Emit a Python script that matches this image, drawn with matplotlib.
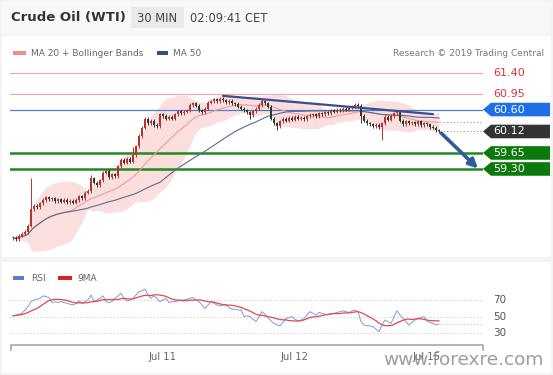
import numpy as np
import pandas as pd
import matplotlib
matplotlib.use('Agg')
import matplotlib.pyplot as plt
from matplotlib.patches import Rectangle, Polygon
from matplotlib.lines import Line2D
import matplotlib.transforms as mtransforms

# ---------------- data ----------------
closes = [
    57.80, 57.76, 57.84, 57.88, 57.92, 58.06,
    58.42, 58.50, 58.46, 58.55,
    58.62, 58.68, 58.64,
    58.66, 58.60, 58.64, 58.58, 58.62, 58.57, 58.60, 58.56, 58.62,
    58.70, 58.66, 58.78, 58.82,
    59.10, 59.00, 58.94,
    59.05, 59.22, 59.26,
    59.12, 59.18, 59.14,
    59.36,
    59.50, 59.44, 59.52, 59.46,
    59.60, 59.80, 60.02,
    60.20, 60.40,
    60.30, 60.36, 60.26, 60.24,
    60.50,
    60.46, 60.40, 60.44, 60.40,
    60.50, 60.56, 60.52, 60.55, 60.58,
    60.70, 60.74, 60.68,
    60.58, 60.54, 60.62,
    60.75, 60.78,
    60.82, 60.78, 60.84, 60.80, 60.76, 60.79, 60.74,
    60.72, 60.66, 60.62, 60.58,
    60.54, 60.48, 60.56,
    60.62, 60.70, 60.78, 60.74, 60.66,
    60.40, 60.30, 60.24,
    60.34, 60.40, 60.36,
    60.42, 60.38, 60.44, 60.40, 60.42, 60.39, 60.45,
    60.48, 60.50, 60.46, 60.52, 60.50, 60.54, 60.52,
    60.58, 60.55, 60.60, 60.58, 60.62, 60.60,
    60.64, 60.66, 60.70, 60.68,
    60.46, 60.36,
    60.30, 60.28, 60.24, 60.26, 60.22,
    60.30,
    60.44, 60.38, 60.46, 60.52,
    60.56,
    60.36, 60.28, 60.34,
    60.30, 60.32, 60.28, 60.34, 60.26, 60.30, 60.28,
    60.22, 60.20, 60.15, 60.12,
]
first_open = 57.78
high_spikes = {6: 59.10, 26: 59.16, 40: 59.78, 83: 60.83}
low_spikes = {79: 60.40, 88: 60.15, 116: 60.30, 123: 59.93}

rsi = [51, 52, 53, 54, 58, 62, 68, 70, 71, 72,
       75, 74, 73, 67, 68, 67, 68, 67, 66, 65,
       64, 66, 69, 66, 68, 70, 76, 68, 70, 72,
       75, 68, 67, 68, 72, 75, 78, 72, 69, 70,
       72, 76, 80, 81, 83, 76, 72, 75, 72, 68,
       70, 72, 67, 68, 68, 69, 70, 70, 71, 72,
       73, 70, 68, 64, 60, 64, 68, 66, 64, 63,
       64, 64, 61, 59, 59, 58, 58, 50, 51, 50,
       47, 44, 50, 56, 53, 49, 45, 42, 40, 39,
       43, 48, 49, 50, 47, 45, 46, 48, 52, 56,
       54, 52, 55, 54, 53, 52, 53, 54, 55, 56,
       57, 56, 55, 57, 58, 56, 44, 40, 39, 39,
       38, 35, 32, 40, 46, 44, 42, 50, 57, 52,
       48, 44, 40, 43, 46, 48, 49, 50, 45, 43,
       42, 40, 41]

levels_red = [61.40, 60.95]
level_blue = 60.60
level_last = 60.12
levels_green = [59.65, 59.30]
rsi_levels = [70, 50, 30]
date_labels = ["Jul 11", "Jul 12", "Jul 15"]
date_pos = [50, 94, 138]
trend_x = [70, 140]
trend_y = [60.90, 60.50]
forecast_x = [142.8, 155.0]
forecast_y = [60.08, 59.31]

assert len(closes) == len(rsi)

# ---------------- figure ----------------
W, H = 553, 375
fig = plt.figure(figsize=(W / 100, H / 100), dpi=100, facecolor='#f3f3f3')


def fx(x):
    return x / W


def fy(y):
    return 1 - y / H


def prect(x0, y0, x1, y1, color, z=-10):
    fig.add_artist(Rectangle((fx(x0), fy(y1)), fx(x1) - fx(x0), fy(y0) - fy(y1),
                             transform=fig.transFigure, facecolor=color,
                             edgecolor='none', zorder=z))


# panels
prect(2, 1, 551, 34, '#f8f8f8')
prect(2, 36, 551, 257, 'white')
prect(2, 262, 551, 373, 'white')

# header
fig.text(fx(11), fy(18), "Crude Oil (WTI)", fontsize=9.5, fontweight='bold',
         color='#333333', va='center', ha='left')
prect(131, 7, 184, 28, '#e9e9e9', z=-5)
fig.text(fx(157.5), fy(18), "30 MIN", fontsize=8.3, color='#444444',
         va='center', ha='center')
fig.text(fx(190), fy(18), "02:09:41 CET", fontsize=8.3, color='#444444',
         va='center', ha='left')

# legend main
prect(13, 51.5, 26, 55, '#f28b8b', z=5)
fig.text(fx(31), fy(53.5), "MA 20 + Bollinger Bands", fontsize=6.5,
         color='#666666', va='center', ha='left')
prect(157, 51.5, 168, 55, '#2f4f8f', z=5)
fig.text(fx(173), fy(53.5), "MA 50", fontsize=6.5, color='#666666',
         va='center', ha='left')
fig.text(fx(544), fy(53.5), "Research \u00a9 2019 Trading Central", fontsize=6.5,
         color='#777777', va='center', ha='right')

# ---------------- main price axes ----------------
ax = fig.add_axes([fx(10), fy(258), (483 - 10) / W, (258 - 60) / H])
ax.set_xlim(-1, 156.67)
ax.set_ylim(57.352, 61.684)
ax.axis('off')

c = pd.Series(closes, dtype=float)
n = len(c)
idx = np.arange(n)
opens = np.r_[first_open, c.values[:-1]]
cl = c.values
wick = 0.035
highs = np.maximum(opens, cl) + wick
lows = np.minimum(opens, cl) - wick
for k, v in high_spikes.items():
    highs[k] = v
for k, v in low_spikes.items():
    lows[k] = v

ma20 = c.rolling(20, min_periods=1).mean()
sd20 = c.rolling(20, min_periods=1).std(ddof=0).fillna(0)
ma50 = c.rolling(50, min_periods=1).mean()
ax.fill_between(idx, ma20 - 2 * sd20, ma20 + 2 * sd20, color='#fbdada',
                alpha=0.85, linewidth=0, zorder=1)
ax.plot(idx, ma20, color='#f19a9a', lw=0.8, zorder=2)
ax.plot(idx, ma50, color='#5a6a96', lw=0.8, zorder=2)

# level lines
for lv in levels_red:
    ax.axhline(lv, color='#f3a3a3', lw=0.8, zorder=1.5)
ax.axhline(level_blue, color='#4d7ccc', lw=0.9, zorder=1.5)
for lv in levels_green:
    ax.axhline(lv, color='#1f8a1f', lw=1.8, zorder=1.5)

# candles
up = cl >= opens
col = np.where(up, '#b8322e', '#2f3a2f')
ax.vlines(idx, lows, highs, colors=col, lw=0.7, zorder=3)
body = np.maximum(np.abs(cl - opens), 0.015)
ax.bar(idx, body, bottom=np.minimum(opens, cl), width=0.8, color=col,
       linewidth=0, zorder=4)

# trend line and forecast arrow
ax.plot(trend_x, trend_y, color='#34508f', lw=1.6, zorder=5,
        solid_capstyle='round')
ax.annotate('', xy=(forecast_x[1], forecast_y[1]),
            xytext=(forecast_x[0], forecast_y[0]),
            arrowprops=dict(arrowstyle='-|>', color='#2f5c9a', lw=2.6,
                            mutation_scale=13, shrinkA=0, shrinkB=0),
            zorder=6)

# dotted helper lines
ax.plot([n - 0.5, 156.67], [level_last, level_last], color='#9a9a9a',
        lw=0.8, ls=(0, (1, 2)), zorder=2)
ax.plot([n - 0.5, 156.67], [ma20.iloc[-1], ma20.iloc[-1]], color='#9a9a9a',
        lw=0.8, ls=(0, (1, 2)), zorder=2)

# tags
tr = mtransforms.blended_transform_factory(ax.transAxes, ax.transData)
axw = 473.0
hh = 6.8 / 45.7
xp = 1.0
xs = 1 + 8 / axw
xe = 1 + 67 / axw
xt = 1 + 10 / axw


def tag(level, text, color):
    poly = Polygon([(xp, level), (xs, level + hh), (xe, level + hh),
                    (xe, level - hh), (xs, level - hh)], closed=True,
                   transform=tr, facecolor=color, edgecolor='none',
                   clip_on=False, zorder=7)
    ax.add_patch(poly)
    ax.text(xt, level, text, transform=tr, color='white', fontsize=8,
            va='center', ha='left', clip_on=False, zorder=8)


for lv in levels_red:
    ax.text(xt, lv, f"{lv:.2f}", transform=tr, color='#d9363a', fontsize=8,
            va='center', ha='left', clip_on=False)
tag(level_blue, f"{level_blue:.2f}", '#1f6fe6')
tag(level_last, f"{level_last:.2f}", '#333333')
for lv in levels_green:
    tag(lv, f"{lv:.2f}", '#0b7a0b')

# ---------------- RSI axes ----------------
prect(13, 276.5, 24, 280, '#5b7bd6', z=5)
fig.text(fx(31), fy(278.5), "RSI", fontsize=6.5, color='#666666',
         va='center', ha='left')
prect(58, 276.5, 72, 280, '#e02020', z=5)
fig.text(fx(77), fy(278.5), "9MA", fontsize=6.5, color='#666666',
         va='center', ha='left')

ax2 = fig.add_axes([fx(10), fy(345), (483 - 10) / W, (345 - 285) / H])
ax2.set_xlim(-1, 156.67)
ax2.set_ylim(16, 88)
ax2.axis('off')
r = pd.Series(rsi, dtype=float)
r9 = r.rolling(9, min_periods=1).mean()
tr2 = mtransforms.blended_transform_factory(ax2.transAxes, ax2.transData)
for lv in rsi_levels:
    ax2.axhline(lv, color='#c8c8c8', lw=0.8, ls=(0, (1, 2)), zorder=1)
    ax2.text(1 + 10 / axw, lv, str(lv), transform=tr2, fontsize=7.5,
             color='#555555', va='center', ha='left', clip_on=False)
ax2.plot([n - 0.5, 156.67], [r.iloc[-1], r.iloc[-1]], color='#c0c0c0',
         lw=0.8, ls=(0, (1, 2)), zorder=1)
ax2.plot(idx, r, color='#7f9ad8', lw=0.7, zorder=2)
ax2.plot(idx, r9, color='#e0494e', lw=0.9, zorder=3)

# x axis bracket
fig.add_artist(Line2D([fx(10.5), fx(10.5), fx(483), fx(483)],
                      [fy(350), fy(345), fy(345), fy(350)],
                      transform=fig.transFigure, color='#a8a8a8', lw=1.2))
xtr = ax2.get_xaxis_transform()
for p, lab in zip(date_pos, date_labels):
    ax2.text(p, (345 - 357) / 60.0, lab, transform=xtr, fontsize=7.2,
             color='#666666', ha='center', va='center', clip_on=False)

# watermark
fig.text(fx(544), fy(360), "www.forexre.com", fontsize=13.3, color='#8c8c8c',
         alpha=0.85, ha='right', va='center')

fig.savefig('out.png', dpi=100, facecolor=fig.get_facecolor())
